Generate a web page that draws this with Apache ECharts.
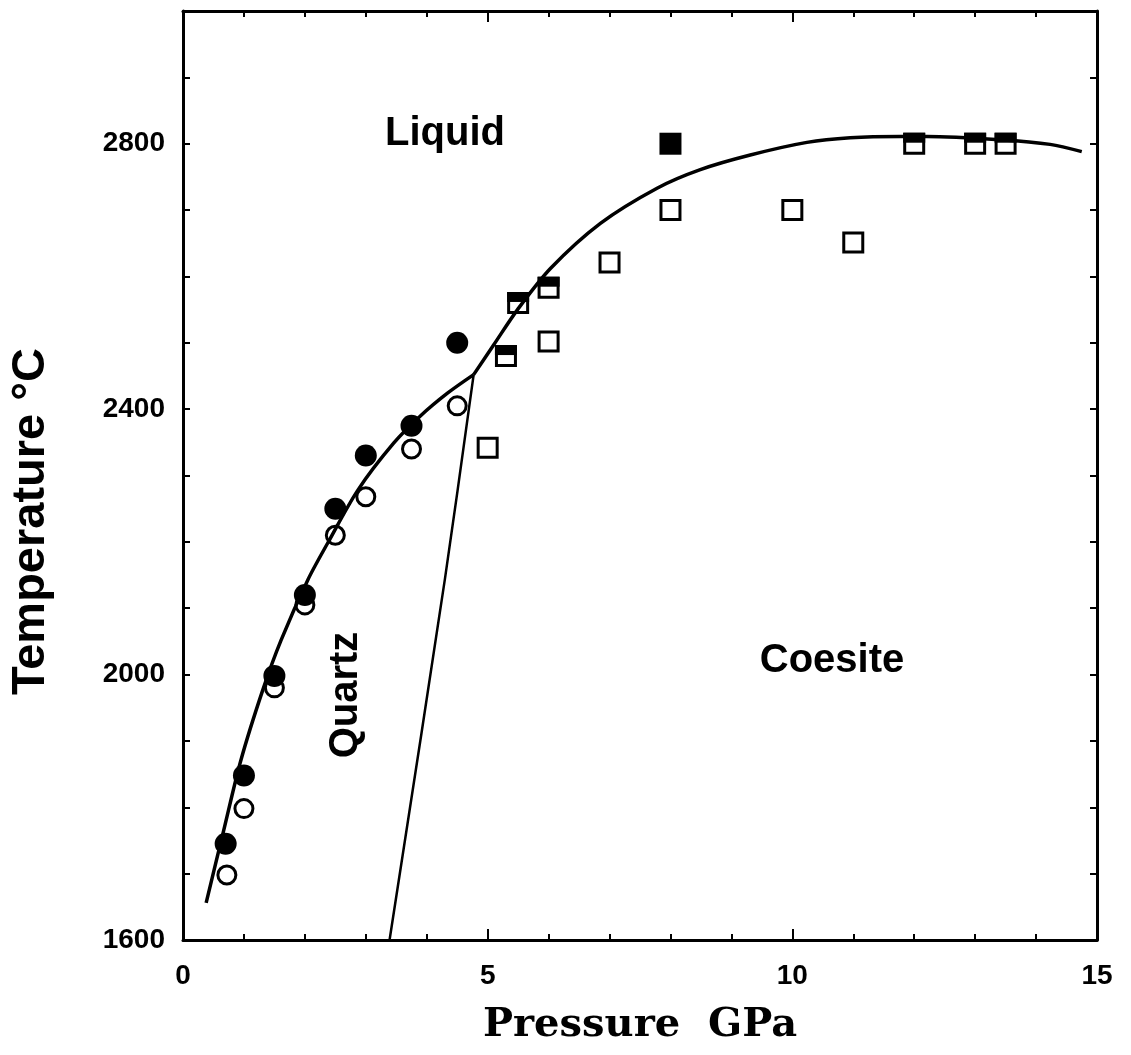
<!DOCTYPE html>
<html><head><meta charset="utf-8">
<script src="https://cdn.jsdelivr.net/npm/echarts@6/dist/echarts.min.js"></script>
<style>html,body{margin:0;padding:0;background:#fff}#c{width:1131px;height:1055px}</style>
</head><body><div id="c"></div>
<script>
// ---- data ----
const xTickLabels = [0, 5, 10, 15];
const yTickLabels = [1600, 2000, 2400, 2800];
// Quartz runs (circles): filled = liquid, open = quartz
const filledCircles = [[0.7,1745],[1.0,1848],[1.5,1998],[2.0,2120],[2.5,2250],[3.0,2330],[3.75,2375],[4.5,2500]];
const openCircles   = [[0.72,1698],[1.0,1798],[1.5,1980],[2.0,2105],[2.5,2210],[3.0,2268],[3.75,2340],[4.5,2405]];
// Coesite runs (squares)
const openSquares   = [[5.0,2342],[6.0,2502],[7.0,2621],[8.0,2700],[10.0,2700],[11.0,2651]];
const filledSquares = [[8.0,2800]];
const halfSquares   = [[5.3,2480],[5.5,2560],[6.0,2583],[12.0,2800],[13.0,2800],[13.5,2800]];
// Phase boundaries
const quartzMelting  = [[0.38,1656],[0.67,1766],[0.95,1871],[1.31,1977],[1.61,2052],[2.05,2143],[2.38,2199],[2.87,2278],[3.46,2349],[3.9,2390],[4.34,2424],[4.77,2452]];
const coesiteMelting = [[4.77,2452],[5.1,2497],[5.49,2550],[6.03,2612],[6.85,2680],[7.78,2733],[8.49,2761],[9.31,2783],[10.24,2802],[10.95,2809],[11.77,2811],[12.21,2811],[13.41,2806],[14.23,2799],[14.75,2788]];
const quartzCoesite  = [[3.39,1600],[4.3,2145],[4.77,2452]];
const regionLabels = ['Liquid', 'Quartz', 'Coesite'];

const black = '#000';
const sans = 'Liberation Sans, Arial, Helvetica, sans-serif';
const tickStyle = {color: black, width: 2};

function xAxisDef(pos, withLabels) {
  return {
    type: 'value', min: 0, max: 15, interval: 5, position: pos,
    axisLine: {show: true, onZero: false, lineStyle: {color: black, width: 3}},
    axisTick: {show: true, inside: true, length: 11, lineStyle: tickStyle},
    minorTick: {show: true, splitNumber: 5, length: 6, lineStyle: tickStyle},
    splitLine: {show: false}, minorSplitLine: {show: false},
    axisLabel: withLabels ? {
      show: true, margin: 22, color: black, fontFamily: sans, fontWeight: 'bold', fontSize: 28,
      formatter: v => xTickLabels.includes(v) ? String(v) : ''
    } : {show: false},
    name: withLabels ? 'Pressure  GPa' : '',
    nameLocation: 'middle', nameGap: 66,
    nameTextStyle: {color: black, fontFamily: 'DejaVu Serif, serif', fontWeight: 'bold', fontSize: 40}
  };
}
function yAxisDef(pos, withLabels) {
  return {
    type: 'value', min: 1600, max: 3000, interval: 100, position: pos,
    axisLine: {show: true, onZero: false, lineStyle: {color: black, width: 3}},
    axisTick: {show: true, inside: true, length: 7, lineStyle: tickStyle},
    splitLine: {show: false},
    axisLabel: withLabels ? {
      show: true, margin: 18, color: black, fontFamily: sans, fontWeight: 'bold', fontSize: 28,
      formatter: v => yTickLabels.includes(v) ? String(v) : ''
    } : {show: false},
    name: withLabels ? 'Temperature \u00B0C' : '',
    nameLocation: 'middle', nameGap: 128, nameRotate: 90,
    nameTextStyle: {color: black, fontFamily: sans, fontWeight: 'bold', fontSize: 47, padding: [0, 92, 0, 0]}
  };
}

const openStyle = {color: '#fff', borderColor: black, borderWidth: 3, opacity: 1};
const solidStyle = {color: black, opacity: 1};
const lineBase = {type: 'line', smooth: 0.3, showSymbol: false, z: 5, silent: true};
const option = {
  animation: false,
  backgroundColor: '#fff',
  grid: {left: 182, right: 34, top: 11, bottom: 115, containLabel: false},
  xAxis: [xAxisDef('bottom', true), xAxisDef('top', false)],
  yAxis: [yAxisDef('left', true), yAxisDef('right', false)],
  series: [
    {type: 'scatter', name: 'quartz (open circles)', data: openCircles, symbol: 'circle', symbolSize: 18, itemStyle: openStyle, z: 2},
    {type: 'scatter', name: 'liquid (filled circles)', data: filledCircles, symbol: 'circle', symbolSize: 22, itemStyle: solidStyle, z: 3},
    {type: 'scatter', name: 'coesite (open squares)', data: openSquares, symbol: 'rect', symbolSize: 19, itemStyle: openStyle, z: 3},
    {type: 'scatter', name: 'coesite + liquid', data: halfSquares, symbol: 'rect', symbolSize: 19, itemStyle: openStyle, z: 3},
    {type: 'scatter', name: 'coesite + liquid top', data: halfSquares, symbol: 'rect', symbolSize: [22, 10], symbolOffset: [0, -6], itemStyle: solidStyle, z: 4},
    {type: 'scatter', name: 'liquid (filled squares)', data: filledSquares, symbol: 'rect', symbolSize: 22, itemStyle: solidStyle, z: 4},
    Object.assign({name: 'quartz melting', data: quartzMelting, lineStyle: {color: black, width: 3.5}}, lineBase),
    Object.assign({name: 'coesite melting', data: coesiteMelting, lineStyle: {color: black, width: 3.5}}, lineBase),
    Object.assign({name: 'quartz-coesite', data: quartzCoesite, lineStyle: {color: black, width: 2.5}}, lineBase)
  ],
  graphic: [
    {type: 'text', x: 445, y: 134, style: {text: regionLabels[0], fill: black, font: 'bold 40px ' + sans, align: 'center', verticalAlign: 'middle'}},
    {type: 'text', x: 346, y: 695, rotation: Math.PI / 2, style: {text: regionLabels[1], fill: black, font: 'bold 40px ' + sans, align: 'center', verticalAlign: 'middle'}},
    {type: 'text', x: 832, y: 661, style: {text: regionLabels[2], fill: black, font: 'bold 40px ' + sans, align: 'center', verticalAlign: 'middle'}}
  ]
};
const chart = echarts.init(document.getElementById('c'), null, {renderer: 'canvas'});
chart.setOption(option);
</script></body></html>
